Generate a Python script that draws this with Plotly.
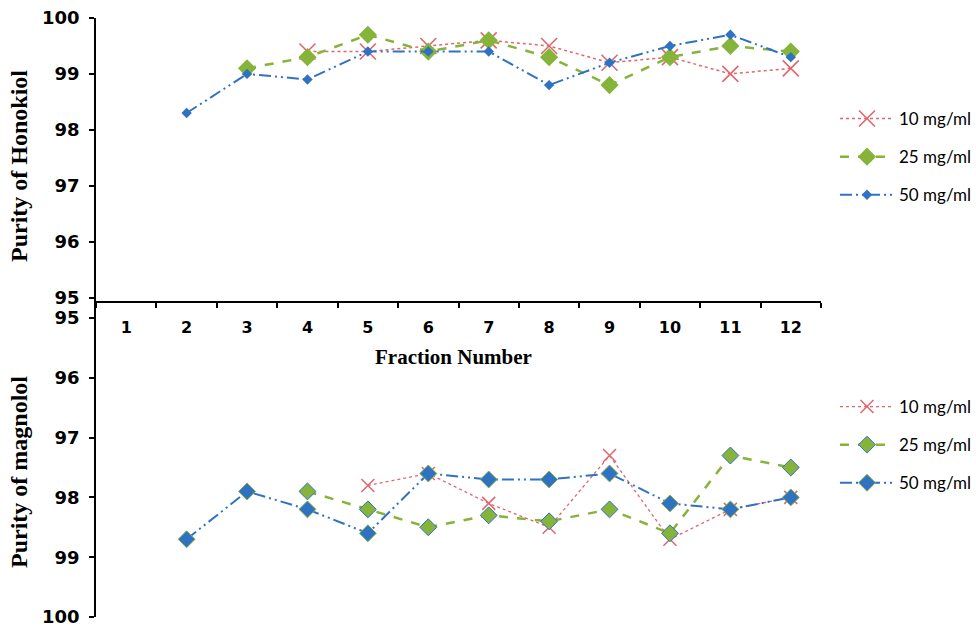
import plotly.graph_objects as go

fractions = ["1", "2", "3", "4", "5", "6", "7", "8", "9", "10", "11", "12"]
series_names = ["10 mg/ml", "25 mg/ml", "50 mg/ml"]

# Purity of Honokiol (top panel)
hon_10 = [None, None, None, 99.4, 99.4, 99.5, 99.6, 99.5, 99.2, 99.3, 99.0, 99.1]
hon_25 = [None, None, 99.1, 99.3, 99.7, 99.4, 99.6, 99.3, 98.8, 99.3, 99.5, 99.4]
hon_50 = [None, 98.3, 99.0, 98.9, 99.4, 99.4, 99.4, 98.8, 99.2, 99.5, 99.7, 99.3]

# Purity of magnolol (bottom panel, reversed axis)
mag_10 = [None, None, None, None, 97.8, 97.6, 98.1, 98.5, 97.3, 98.7, 98.2, 98.0]
mag_25 = [None, None, None, 97.9, 98.2, 98.5, 98.3, 98.4, 98.2, 98.6, 97.3, 97.5]
mag_50 = [None, 98.7, 97.9, 98.2, 98.6, 97.6, 97.7, 97.7, 97.6, 98.1, 98.2, 98.0]

y_ticks = [95, 96, 97, 98, 99, 100]

RED = "#E0666E"
GREEN = "#86B33A"
BLUE = "#2F72C4"
BLUE_DASH = "12px,4px,2px,4px,2px,4px"

fig = go.Figure()

# top panel traces
fig.add_trace(go.Scatter(x=fractions, y=hon_10, name=series_names[0], mode="lines+markers",
                         line=dict(color=RED, width=1.5, dash="dot"),
                         marker=dict(symbol="x-thin-open", size=16, line=dict(color=RED, width=1.6)),
                         xaxis="x", yaxis="y", legend="legend", legendgroup="t10"))
fig.add_trace(go.Scatter(x=fractions, y=hon_25, name=series_names[1], mode="lines+markers",
                         line=dict(color=GREEN, width=2.5, dash="dash"),
                         marker=dict(symbol="diamond", size=14, color=GREEN),
                         xaxis="x", yaxis="y", legend="legend", legendgroup="t25"))
fig.add_trace(go.Scatter(x=fractions, y=hon_50, name=series_names[2], mode="lines+markers",
                         line=dict(color=BLUE, width=2, dash=BLUE_DASH),
                         marker=dict(symbol="diamond", size=8, color=BLUE),
                         xaxis="x", yaxis="y", legend="legend", legendgroup="t50"))

# bottom panel traces
fig.add_trace(go.Scatter(x=fractions, y=mag_10, name=series_names[0], mode="lines+markers",
                         line=dict(color=RED, width=1.3, dash="dot"),
                         marker=dict(symbol="x-thin-open", size=13, line=dict(color=RED, width=1.5)),
                         xaxis="x2", yaxis="y2", legend="legend2", legendgroup="b10"))
fig.add_trace(go.Scatter(x=fractions, y=mag_25, name=series_names[1], mode="lines+markers",
                         line=dict(color=GREEN, width=2.5, dash="dash"),
                         marker=dict(symbol="diamond", size=13, color=GREEN, line=dict(color=BLUE, width=1)),
                         xaxis="x2", yaxis="y2", legend="legend2", legendgroup="b25"))
fig.add_trace(go.Scatter(x=fractions, y=mag_50, name=series_names[2], mode="lines+markers",
                         line=dict(color=BLUE, width=2, dash=BLUE_DASH),
                         marker=dict(symbol="diamond", size=13, color=BLUE, line=dict(color=GREEN, width=1)),
                         xaxis="x2", yaxis="y2", legend="legend2", legendgroup="b50"))

ytickfont = dict(family="DejaVu Sans", size=18, color="black", weight="bold")
xtickfont = dict(family="DejaVu Sans", size=16, color="black", weight="bold")
split = (617 - 301) / 599.0
PW = 725.0
PH = 599.0

fig.update_layout(
    width=976, height=628,
    margin=dict(l=96, r=155, t=18, b=11, autoexpand=False),
    plot_bgcolor="white", paper_bgcolor="white",
    xaxis=dict(type="category", categoryorder="array", categoryarray=fractions,
               range=[-0.5, 11.5], anchor="y", showline=True, linecolor="black", linewidth=1.5,
               ticks="outside", ticklen=5, tickwidth=1.5, tickcolor="black", tickson="boundaries",
               tickfont=xtickfont, ticklabelstandoff=11, showgrid=False, zeroline=False,
               automargin=False),
    xaxis2=dict(type="category", categoryorder="array", categoryarray=fractions,
                range=[-0.5, 11.5], anchor="y2", matches="x", showline=False, showticklabels=False,
                ticks="", showgrid=False, zeroline=False, automargin=False),
    yaxis=dict(domain=[split, 1], range=[95 - 3.5 / 56, 100], tickvals=y_ticks,
               showline=True, linecolor="black", linewidth=1.5, ticks="outside", ticklen=5,
               tickwidth=1.5, tickcolor="black", tickfont=ytickfont, showgrid=False, zeroline=False,
               ticklabelstandoff=6, automargin=False),
    yaxis2=dict(domain=[0, split], range=[100, 95 - 17 / 59.8], tickvals=y_ticks,
                showline=True, linecolor="black", linewidth=1.5, ticks="outside", ticklen=5,
                tickwidth=1.5, tickcolor="black", tickfont=ytickfont, showgrid=False, zeroline=False,
                ticklabelstandoff=6, automargin=False),
    legend=dict(x=1 + 14 / PW, xanchor="left", y=(617 - 101) / PH, yanchor="top",
                font=dict(family="Lato", size=17, color="black"), tracegroupgap=13,
                itemwidth=54, bgcolor="rgba(0,0,0,0)"),
    legend2=dict(x=1 + 14 / PW, xanchor="left", y=(617 - 389) / PH, yanchor="top",
                 font=dict(family="Lato", size=17, color="black"), tracegroupgap=13,
                 itemwidth=54, bgcolor="rgba(0,0,0,0)"),
    annotations=[
        dict(text="<b>Purity of Honokiol</b>", xref="paper", yref="paper", x=(19 - 96) / PW,
             y=(617 - 166) / PH, xanchor="center", yanchor="middle", textangle=-90, showarrow=False,
             font=dict(family="Liberation Serif", size=24, color="black")),
        dict(text="<b>Purity of magnolol</b>", xref="paper", yref="paper", x=(19 - 96) / PW,
             y=(617 - 472) / PH, xanchor="center", yanchor="middle", textangle=-90, showarrow=False,
             font=dict(family="Liberation Serif", size=24, color="black")),
        dict(text="<b>Fraction Number</b>", xref="paper", yref="paper", x=(453 - 96) / PW,
             y=(617 - 357) / PH, xanchor="center", yanchor="middle", showarrow=False,
             font=dict(family="Liberation Serif", size=21, color="black")),
    ],
)

fig.write_html("out.html", config={"displayModeBar": False},
               post_script="document.body.style.margin='0';document.body.style.overflow='hidden';")
